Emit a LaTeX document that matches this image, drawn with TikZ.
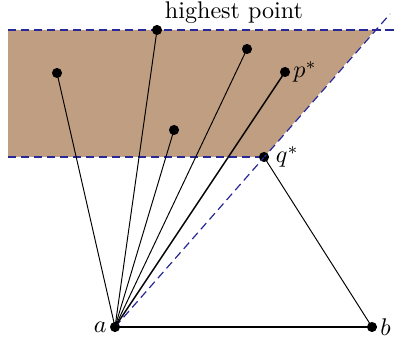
\documentclass[tikz,border=0pt]{standalone}
\definecolor{fillbrown}{RGB}{192,158,129}
\definecolor{dashblue}{RGB}{40,40,150}
\begin{document}
\begin{tikzpicture}[x=0.415pt,y=-0.415pt,
  pt/.style={circle,fill=black,inner sep=0pt,minimum size=4.2pt},
  bound/.style={dashblue,dash pattern=on 3.4pt off 2pt,line width=0.5pt},
  ray/.style={line width=0.4pt}]
\useasboundingbox (0,0) rectangle (395,343);
\fill[fillbrown] (8,30) -- (375,30) -- (264,157) -- (8,157) -- cycle;
\coordinate (tl) at (8,30);
\coordinate (tr) at (395,30);
\coordinate (bl) at (8,157);
\coordinate (far) at (390,14);
\draw[bound] (tl) -- (tr);
\draw[bound] (bl) -- (264,157);
\node[pt] (a) at (115,327) {};
\node[pt] (b) at (372,327) {};
\node[pt] (h) at (157,30) {};
\node[pt] (p1) at (247,49) {};
\node[pt] (ps) at (285,72) {};
\node[pt] (p2) at (57,73) {};
\node[pt] (p3) at (174,130) {};
\node[pt] (qs) at (264,157) {};
\draw[bound] (a.center) -- (far);
\draw[ray] (a.center) -- (p2.center);
\draw[ray] (a.center) -- (h.center);
\draw[ray] (a.center) -- (p3.center);
\draw[ray] (a.center) -- (p1.center);
\draw[line width=0.6pt] (a.center) -- (ps.center);
\draw[ray] (qs.center) -- (b.center);
\draw[line width=0.8pt] (a.center) -- (b.center);
\node (hl) at (234,13) {highest point};
\node[anchor=west,inner sep=1pt] (psl) at (ps.east) {$p^*$};
\node[anchor=west,inner sep=1pt] (qsl) at (273,157) {$q^*$};
\node[anchor=east,inner sep=1pt] (al) at (a.west) {$a$};
\node[anchor=west,inner sep=1pt] (bl2) at (b.east) {$b$};
\end{tikzpicture}
\end{document}
